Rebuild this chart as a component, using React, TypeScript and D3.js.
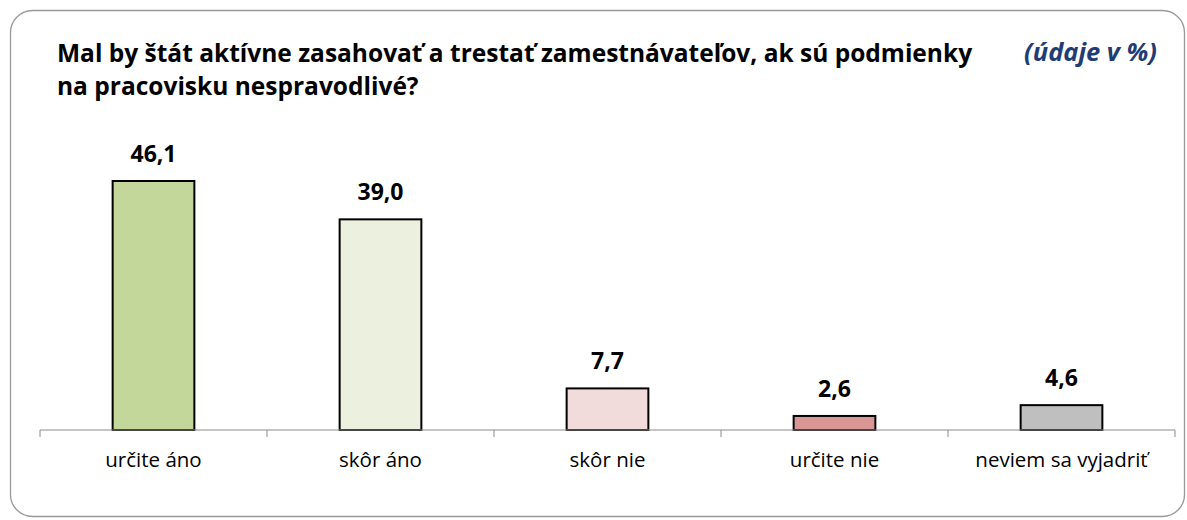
import React from "react";
import * as d3 from "d3";

const categories = ["určite áno", "skôr áno", "skôr nie", "určite nie", "neviem sa vyjadriť"];
const values = [46.1, 39.0, 7.7, 2.6, 4.6];
const colors = ["#C4D79B", "#EBF1DE", "#F2DCDB", "#DA9694", "#BFBFBF"];
const titleLines = [
  "Mal by štát aktívne zasahovať a trestať zamestnávateľov, ak sú podmienky",
  "na pracovisku nespravodlivé?",
];
const unitNote = "(údaje v %)";

const W = 1187;
const H = 520;
const left = 40;
const right = 1175;
const baseY = 430;
const font = "'Open Sans', 'Noto Sans', sans-serif";

export default function App() {
  const x = d3.scaleBand<string>().domain(categories).range([left, right]).paddingInner(0.64).paddingOuter(0.32);
  const y = d3.scaleLinear().domain([0, 46.1]).range([baseY, 181]);
  const band = (right - left) / categories.length;
  const ticks = d3.range(categories.length + 1).map((i) => left + i * band);
  const fmt = (v: number) => v.toFixed(1).replace(".", ",");
  return (
    <svg width={W} height={H} style={{ position: "absolute", left: 0, top: 0 }}>
      <rect x={10.5} y={10.5} width={1174} height={506} rx={22} ry={22} fill="#fff" stroke="#999" strokeWidth={1.3} />
      {titleLines.map((t, i) => (
        <text key={i} x={57} y={62 + i * 33} fontFamily={font} fontWeight={700} fontSize={24.5} fill="#000">
          {t}
        </text>
      ))}
      <text x={1157} y={61} textAnchor="end" fontFamily={font} fontWeight={700} fontStyle="italic" fontSize={25.5} fill="#1F3C74">
        {unitNote}
      </text>
      {categories.map((c, i) => {
        const bx = x(c)!;
        const bw = x.bandwidth();
        const top = y(values[i]);
        return (
          <g key={c}>
            <rect x={bx} y={top} width={bw} height={baseY - top} fill={colors[i]} stroke="#000" strokeWidth={2} />
            <text x={bx + bw / 2} y={top - 19} textAnchor="middle" fontFamily={font} fontWeight={700} fontSize={23} fill="#000">
              {fmt(values[i])}
            </text>
            <text x={left + band * (i + 0.5)} y={467} textAnchor="middle" fontFamily={font} fontSize={20.5} fill="#000">
              {c}
            </text>
          </g>
        );
      })}
      <line x1={left} x2={right} y1={baseY} y2={baseY} stroke="#8c8c8c" strokeWidth={1} />
      {ticks.map((t, i) => (
        <line key={i} x1={t} x2={t} y1={baseY} y2={baseY + 7} stroke="#8c8c8c" strokeWidth={1} />
      ))}
    </svg>
  );
}
